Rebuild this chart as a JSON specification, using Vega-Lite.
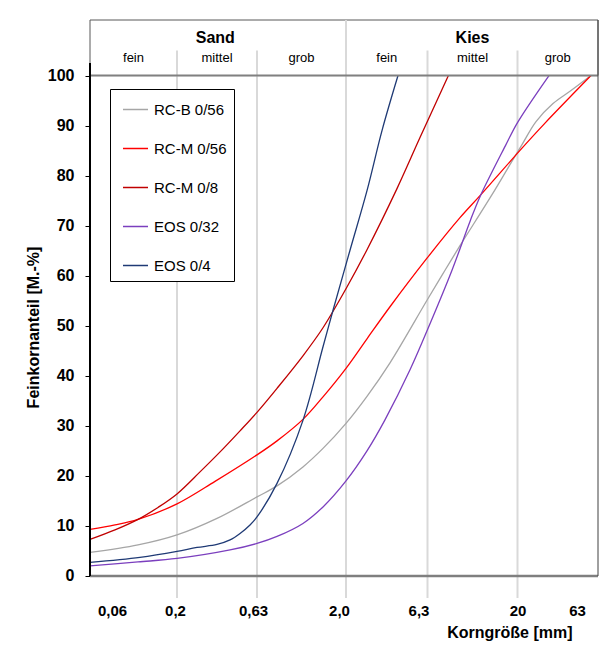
{
  "$schema": "https://vega.github.io/schema/vega-lite/v6.json",
  "width": 508,
  "height": 578,
  "autosize": "none",
  "padding": {"left": 90, "top": 20, "right": 17, "bottom": 57},
  "background": "white",
  "config": {"font": "Liberation Sans", "view": {"stroke": null}},
  "datasets": {
    "curves": [
      {"s": "RC-B 0/56", "d": 0.06, "p": 4.7}, {"s": "RC-B 0/56", "d": 0.1166, "p": 6.2}, {"s": "RC-B 0/56", "d": 0.2, "p": 8.2}, {"s": "RC-B 0/56", "d": 0.355, "p": 11.5}, {"s": "RC-B 0/56", "d": 0.63, "p": 15.8}, {"s": "RC-B 0/56", "d": 0.817, "p": 18.0}, {"s": "RC-B 0/56", "d": 1.144, "p": 21.8}, {"s": "RC-B 0/56", "d": 1.484, "p": 25.5}, {"s": "RC-B 0/56", "d": 2.0, "p": 30.5}, {"s": "RC-B 0/56", "d": 2.688, "p": 35.9}, {"s": "RC-B 0/56", "d": 3.716, "p": 42.6}, {"s": "RC-B 0/56", "d": 6.256, "p": 55.1}, {"s": "RC-B 0/56", "d": 7.888, "p": 61.1}, {"s": "RC-B 0/56", "d": 9.561, "p": 66.0}, {"s": "RC-B 0/56", "d": 14.42, "p": 76.2}, {"s": "RC-B 0/56", "d": 17.48, "p": 81.2}, {"s": "RC-B 0/56", "d": 21.33, "p": 86.2}, {"s": "RC-B 0/56", "d": 26.04, "p": 90.8}, {"s": "RC-B 0/56", "d": 33.18, "p": 94.4}, {"s": "RC-B 0/56", "d": 42.88, "p": 97.0}, {"s": "RC-B 0/56", "d": 57.0, "p": 100},
      {"s": "RC-M 0/56", "d": 0.06, "p": 9.3}, {"s": "RC-M 0/56", "d": 0.0848, "p": 10.2}, {"s": "RC-M 0/56", "d": 0.1166, "p": 11.3}, {"s": "RC-M 0/56", "d": 0.2, "p": 14.4}, {"s": "RC-M 0/56", "d": 0.345, "p": 18.9}, {"s": "RC-M 0/56", "d": 0.63, "p": 24.2}, {"s": "RC-M 0/56", "d": 0.817, "p": 27.0}, {"s": "RC-M 0/56", "d": 1.144, "p": 31.3}, {"s": "RC-M 0/56", "d": 1.484, "p": 35.8}, {"s": "RC-M 0/56", "d": 2.0, "p": 41.5}, {"s": "RC-M 0/56", "d": 2.688, "p": 47.4}, {"s": "RC-M 0/56", "d": 3.716, "p": 53.8}, {"s": "RC-M 0/56", "d": 6.256, "p": 63.5}, {"s": "RC-M 0/56", "d": 9.561, "p": 71.6}, {"s": "RC-M 0/56", "d": 12.36, "p": 76.0}, {"s": "RC-M 0/56", "d": 21.33, "p": 85.5}, {"s": "RC-M 0/56", "d": 29.6, "p": 90.5}, {"s": "RC-M 0/56", "d": 57.0, "p": 100},
      {"s": "RC-M 0/8", "d": 0.06, "p": 7.3}, {"s": "RC-M 0/8", "d": 0.0848, "p": 9.2}, {"s": "RC-M 0/8", "d": 0.1166, "p": 11.3}, {"s": "RC-M 0/8", "d": 0.1538, "p": 13.7}, {"s": "RC-M 0/8", "d": 0.2, "p": 16.4}, {"s": "RC-M 0/8", "d": 0.2782, "p": 20.8}, {"s": "RC-M 0/8", "d": 0.387, "p": 25.4}, {"s": "RC-M 0/8", "d": 0.494, "p": 29.0}, {"s": "RC-M 0/8", "d": 0.63, "p": 32.7}, {"s": "RC-M 0/8", "d": 0.817, "p": 37.5}, {"s": "RC-M 0/8", "d": 1.144, "p": 44.0}, {"s": "RC-M 0/8", "d": 1.484, "p": 49.6}, {"s": "RC-M 0/8", "d": 2.0, "p": 57.4}, {"s": "RC-M 0/8", "d": 2.688, "p": 65.2}, {"s": "RC-M 0/8", "d": 4.1, "p": 77.4}, {"s": "RC-M 0/8", "d": 5.668, "p": 87.6}, {"s": "RC-M 0/8", "d": 8.24, "p": 100},
      {"s": "EOS 0/32", "d": 0.06, "p": 2.0}, {"s": "EOS 0/32", "d": 0.1166, "p": 2.8}, {"s": "EOS 0/32", "d": 0.2, "p": 3.5}, {"s": "EOS 0/32", "d": 0.428, "p": 5.2}, {"s": "EOS 0/32", "d": 0.63, "p": 6.5}, {"s": "EOS 0/32", "d": 0.817, "p": 7.9}, {"s": "EOS 0/32", "d": 1.144, "p": 10.5}, {"s": "EOS 0/32", "d": 1.484, "p": 13.8}, {"s": "EOS 0/32", "d": 2.0, "p": 19.0}, {"s": "EOS 0/32", "d": 2.688, "p": 25.0}, {"s": "EOS 0/32", "d": 3.462, "p": 31.2}, {"s": "EOS 0/32", "d": 4.925, "p": 41.2}, {"s": "EOS 0/32", "d": 6.505, "p": 50.4}, {"s": "EOS 0/32", "d": 8.627, "p": 61.1}, {"s": "EOS 0/32", "d": 10.91, "p": 71.0}, {"s": "EOS 0/32", "d": 12.36, "p": 75.8}, {"s": "EOS 0/32", "d": 17.14, "p": 86.0}, {"s": "EOS 0/32", "d": 20.0, "p": 90.6}, {"s": "EOS 0/32", "d": 31.33, "p": 100},
      {"s": "EOS 0/4", "d": 0.06, "p": 2.7}, {"s": "EOS 0/4", "d": 0.1198, "p": 3.7}, {"s": "EOS 0/4", "d": 0.2, "p": 4.9}, {"s": "EOS 0/4", "d": 0.2665, "p": 5.7}, {"s": "EOS 0/4", "d": 0.355, "p": 6.3}, {"s": "EOS 0/4", "d": 0.428, "p": 7.2}, {"s": "EOS 0/4", "d": 0.494, "p": 8.5}, {"s": "EOS 0/4", "d": 0.57, "p": 10.2}, {"s": "EOS 0/4", "d": 0.63, "p": 11.8}, {"s": "EOS 0/4", "d": 0.817, "p": 18.5}, {"s": "EOS 0/4", "d": 1.144, "p": 31.1}, {"s": "EOS 0/4", "d": 1.484, "p": 45.8}, {"s": "EOS 0/4", "d": 1.69, "p": 53.1}, {"s": "EOS 0/4", "d": 2.116, "p": 65.1}, {"s": "EOS 0/4", "d": 2.688, "p": 77.0}, {"s": "EOS 0/4", "d": 3.32, "p": 89.0}, {"s": "EOS 0/4", "d": 4.16, "p": 100}
    ],
    "classes": [
      {"group": "Sand", "sub": "fein", "from": 0.06, "to": 0.2},
      {"group": "Sand", "sub": "mittel", "from": 0.2, "to": 0.63},
      {"group": "Sand", "sub": "grob", "from": 0.63, "to": 2},
      {"group": "Kies", "sub": "fein", "from": 2, "to": 6.3},
      {"group": "Kies", "sub": "mittel", "from": 6.3, "to": 20},
      {"group": "Kies", "sub": "grob", "from": 20, "to": 63}
    ]
  },
  "layer": [
    {
      "data": {"values": [{}]},
      "mark": {"type": "rect", "fill": "white", "stroke": "#595959", "strokeWidth": 1},
      "encoding": {
        "x": {"datum": 0.06, "type": "quantitative"},
        "x2": {"datum": 63},
        "y": {"datum": 100, "type": "quantitative"},
        "y2": {"datum": 111.1}
      }
    },
    {
      "data": {"name": "classes"},
      "transform": [{"filter": "datum.from != 0.06 && datum.from != 2"}],
      "mark": {"type": "rule", "color": "#D9D9D9", "strokeWidth": 2},
      "encoding": {
        "x": {"field": "from", "type": "quantitative"},
        "y": {"datum": -4.4, "type": "quantitative"},
        "y2": {"datum": 105}
      }
    },
    {
      "data": {"name": "classes"},
      "transform": [{"filter": "datum.from == 2"}],
      "mark": {"type": "rule", "color": "#D9D9D9", "strokeWidth": 2},
      "encoding": {
        "x": {"field": "from", "type": "quantitative"},
        "y": {"datum": -4.4, "type": "quantitative"},
        "y2": {"datum": 111.1}
      }
    },
    {
      "data": {"name": "curves"},
      "mark": {"type": "line", "interpolate": "catmull-rom", "strokeWidth": 1.3},
      "encoding": {
        "x": {
          "field": "d", "type": "quantitative",
          "scale": {"type": "log", "domain": [0.06, 0.2, 0.63, 2, 6.3, 20, 63], "range": [0, 87, 167, 256, 337.5, 427.5, 508], "nice": false},
          "axis": {
            "values": [0.06, 0.2, 0.63, 2, 6.3, 20, 63],
            "labelExpr": "datum.value < 0.1 ? '0,06' : datum.value < 0.3 ? '0,2' : datum.value < 1 ? '0,63' : datum.value < 3 ? '2,0' : datum.value < 10 ? '6,3' : datum.value < 30 ? '20' : '63'",
            "labelOffset": {"expr": "datum.value < 0.1 ? 22 : datum.value < 0.3 ? -2 : datum.value < 1 ? -4 : datum.value < 3 ? -7 : datum.value < 10 ? -9 : datum.value < 30 ? 0 : -21"},
            "labelFlush": false, "labelOverlap": false,
            "labelFontSize": 15, "labelFontWeight": "bold", "labelColor": "black", "labelPadding": 5,
            "ticks": false, "domain": false, "grid": false,
            "title": "Korngröße [mm]", "titleFontSize": 16, "titleFontWeight": "bold", "titleColor": "black",
            "titleAlign": "right", "titleX": 482, "titlePadding": 6
          }
        },
        "y": {
          "field": "p", "type": "quantitative",
          "scale": {"domain": [-4.4, 111.1], "nice": false, "zero": false},
          "axis": {
            "values": [0, 10, 20, 30, 40, 50, 60, 70, 80, 90, 100],
            "labelFontSize": 16, "labelFontWeight": "bold", "labelColor": "black", "labelPadding": 11,
            "tickSize": 5, "tickColor": "black", "domain": false, "grid": false,
            "title": "Feinkornanteil [M.-%]", "titleFontSize": 16, "titleFontWeight": "bold", "titleColor": "black",
            "titlePadding": 6, "titleY": 307
          }
        },
        "color": {
          "field": "s", "type": "nominal",
          "scale": {"domain": ["RC-B 0/56", "RC-M 0/56", "RC-M 0/8", "EOS 0/32", "EOS 0/4"], "range": ["#A6A6A6", "#FF0000", "#C00000", "#7B3FBE", "#1F3A75"]},
          "legend": {
            "orient": "none", "legendX": 20, "legendY": 69, "title": null,
            "symbolType": "stroke", "symbolSize": 625, "symbolStrokeWidth": 1.5,
            "labelFontSize": 15, "labelColor": "black", "labelOffset": 5,
            "strokeColor": "black", "fillColor": "white", "padding": 7, "symbolOffset": 5, "rowPadding": 17
          }
        }
      }
    },
    {
      "data": {"values": [{}]},
      "mark": {"type": "rule", "color": "#808080", "strokeWidth": 2},
      "encoding": {
        "x": {"datum": 0.06, "type": "quantitative"},
        "x2": {"datum": 63},
        "y": {"datum": 100, "type": "quantitative"}
      }
    },
    {
      "data": {"values": [{}]},
      "mark": {"type": "rule", "color": "#7F7F7F", "strokeWidth": 2.5},
      "encoding": {
        "x": {"datum": 0.06, "type": "quantitative"},
        "x2": {"datum": 63},
        "y": {"datum": 0, "type": "quantitative"}
      }
    },
    {
      "data": {"values": [{}]},
      "mark": {"type": "rule", "color": "black", "strokeWidth": 2},
      "encoding": {
        "x": {"datum": 0.06, "type": "quantitative"},
        "y": {"datum": 0, "type": "quantitative"},
        "y2": {"datum": 102.5}
      }
    },
    {
      "data": {"values": [{}]},
      "mark": {"type": "rule", "color": "#404040", "strokeWidth": 1},
      "encoding": {
        "x": {"datum": 63, "type": "quantitative"},
        "y": {"datum": 0, "type": "quantitative"},
        "y2": {"datum": 111.1}
      }
    },
    {
      "data": {"name": "classes"},
      "transform": [{"calculate": "sqrt(datum.from * datum.to)", "as": "mid"}],
      "mark": {"type": "text", "fontSize": 13, "color": "black", "baseline": "middle"},
      "encoding": {
        "x": {"field": "mid", "type": "quantitative"},
        "y": {"datum": 103.6, "type": "quantitative"},
        "text": {"field": "sub"}
      }
    },
    {
      "data": {"name": "classes"},
      "transform": [
        {"aggregate": [{"op": "min", "field": "from", "as": "lo"}, {"op": "max", "field": "to", "as": "hi"}], "groupby": ["group"]},
        {"calculate": "sqrt(datum.lo * datum.hi)", "as": "mid"}
      ],
      "mark": {"type": "text", "fontSize": 16, "fontWeight": "bold", "color": "black", "baseline": "middle"},
      "encoding": {
        "x": {"field": "mid", "type": "quantitative"},
        "y": {"datum": 107.6, "type": "quantitative"},
        "text": {"field": "group"}
      }
    }
  ]
}
